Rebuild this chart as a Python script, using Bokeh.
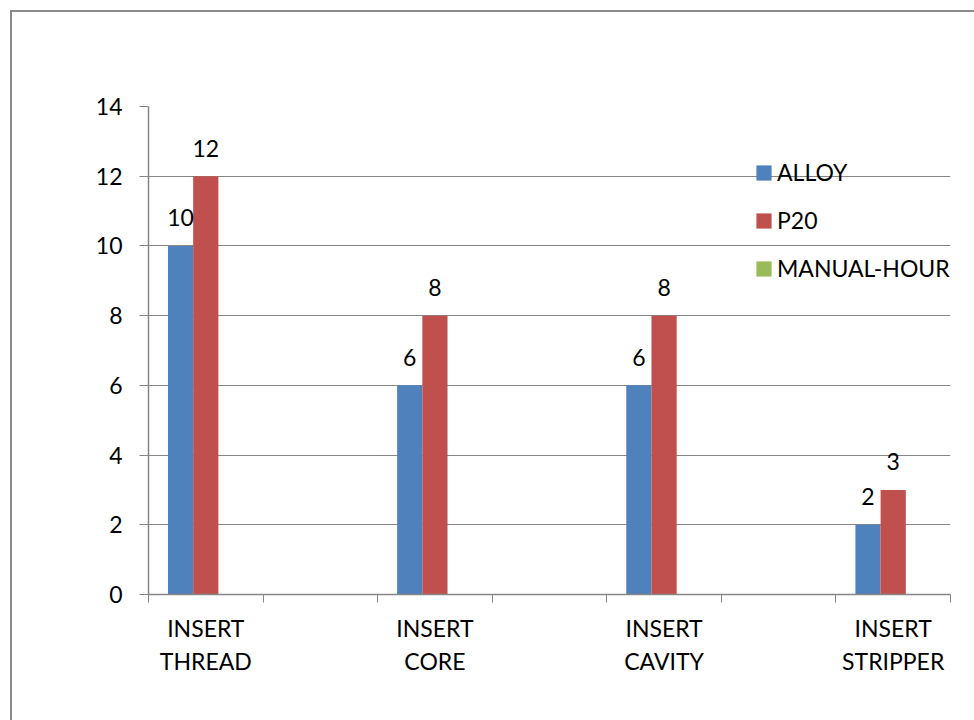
from bokeh.plotting import figure
from bokeh.models import Range1d, FixedTicker, ColumnDataSource, Legend, LegendItem
from bokeh.embed import file_html
from bokeh.resources import INLINE
from bokeh.core.properties import value

categories = ["INSERT THREAD", "INSERT CORE", "INSERT CAVITY", "INSERT STRIPPER"]
alloy = [10, 6, 6, 2]
p20 = [12, 8, 8, 3]
manual_hour = [0, 0, 0, 0]
series_names = ["ALLOY", "P20", "MANUAL-HOUR"]
y_ticks = [0, 2, 4, 6, 8, 10, 12, 14]

FONT = "Lato"
FS = "23px"
GRAY = "#868686"
BLUE, RED, GREEN = "#4F81BD", "#C0504D", "#9BBB59"

# Excel layout: an empty category slot between consecutive groups
slots = []
for i, c in enumerate(categories):
    slots.append(c)
    if i < len(categories) - 1:
        slots.append("")
n_slots = len(slots)
centers = [2 * i + 0.5 for i in range(len(categories))]

OFF = 12  # outer frame offset (margin + border)
# the outer frame runs past the right and bottom edges of the window, as in the reference
p = figure(width=980, height=720, x_range=Range1d(0, n_slots),
           y_range=Range1d(y_ticks[0], y_ticks[-1]),
           output_backend="svg", toolbar_location=None,
           min_border_left=148 - OFF, min_border_right=44, min_border_top=106 - OFF,
           min_border_bottom=140)
p.margin = (10, 0, 0, 10)
p.styles = {"border-top": "2px solid #8a8a8a", "border-left": "2px solid #8a8a8a",
            "border-right": "none", "border-bottom": "none",
            "box-sizing": "content-box"}
p.outline_line_color = None
p.xgrid.visible = False
p.ygrid.ticker = FixedTicker(ticks=y_ticks)
p.ygrid.grid_line_color = GRAY
p.ygrid.grid_line_width = 1

ya = p.yaxis[0]
ya.ticker = FixedTicker(ticks=y_ticks)
ya.major_tick_out = 9
ya.major_tick_in = 0
ya.minor_tick_line_color = None
ya.major_tick_line_color = GRAY
ya.axis_line_color = GRAY
ya.axis_line_width = 1.5
ya.major_label_standoff = 17
ya.major_label_text_font = FONT
ya.major_label_text_font_size = FS
ya.major_label_text_color = "black"

xa = p.xaxis[0]
xa.ticker = FixedTicker(ticks=centers, minor_ticks=list(range(n_slots + 1)))
xa.major_label_overrides = {c: name.replace(" ", "\n") for c, name in zip(centers, categories)}
xa.major_tick_line_color = None
xa.major_tick_out = 0
xa.major_tick_in = 0
xa.minor_tick_out = 8
xa.minor_tick_in = 0
xa.minor_tick_line_color = GRAY
xa.axis_line_color = GRAY
xa.axis_line_width = 1.5
xa.major_label_standoff = 11
xa.major_label_text_font = FONT
xa.major_label_text_font_size = FS
xa.major_label_text_color = "black"
xa.major_label_text_line_height = 1.18

W = 0.22
src = ColumnDataSource(dict(xc=centers, alloy=alloy, p20=p20, manual=manual_hour,
                            x_alloy=[c - W for c in centers], x_p20=centers,
                            x_manual=[c + W for c in centers],
                            alloy_lbl=[str(v) for v in alloy], p20_lbl=[str(v) for v in p20]))
r1 = p.vbar(x="x_alloy", top="alloy", width=W, source=src, fill_color=BLUE, line_color=None)
r2 = p.vbar(x="x_p20", top="p20", width=W, source=src, fill_color=RED, line_color=None)
r3 = p.vbar(x="x_manual", top="manual", width=W, source=src, fill_color=GREEN, line_color=None)

for xcol, col in (("x_alloy", "alloy"), ("x_p20", "p20")):
    p.text(x=xcol, y=col, text=col + "_lbl", source=src,
           text_align="center", text_baseline="alphabetic", y_offset=-28,
           text_font=value(FONT), text_font_size=FS, text_color="black")

legend = Legend(items=[LegendItem(label=n, renderers=[r]) for n, r in zip(series_names, (r1, r2, r3))],
                location=(606, 312), padding=0, margin=0, border_line_color=None,
                background_fill_alpha=0, glyph_width=19, glyph_height=19, label_height=19,
                label_standoff=4, spacing=20, label_text_font=FONT, label_text_font_size=FS,
                label_text_color="black")
p.add_layout(legend)

html = file_html(p, INLINE)
html = html.replace("</head>", "<style>html,body{overflow:hidden;margin:0;}</style></head>", 1)
open("out.html", "w").write(html)
